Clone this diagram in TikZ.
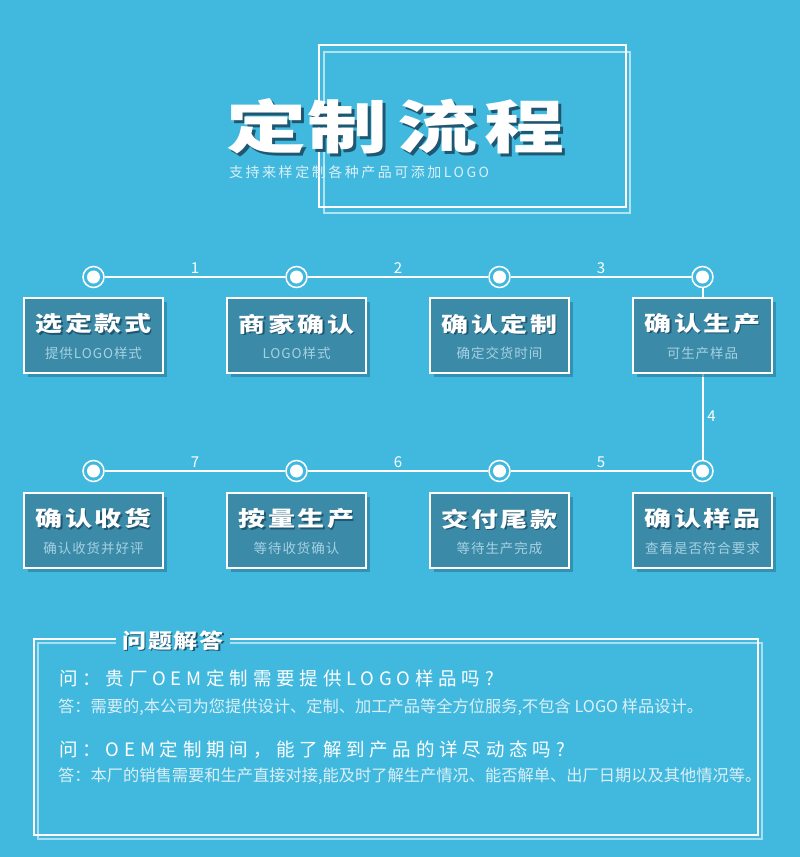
\documentclass[tikz,border=0pt]{standalone}
\usepackage{fontspec}
\usetikzlibrary{shadows}
\newfontfamily\cjk{Noto Sans CJK SC}
\newfontfamily\cjkh{Noto Sans CJK SC Black}
\definecolor{bg}{HTML}{41B9DF}
\definecolor{boxfill}{HTML}{3B8BA8}
\definecolor{boxshade}{HTML}{2B7898}
\definecolor{subtxt}{HTML}{A6D1E2}
\definecolor{tshade}{HTML}{1F5670}
\definecolor{lite}{HTML}{DCEFF6}
\newcommand\shtxt[4]{\makebox[0pt][l]{\kern#2\raisebox{-#3}{\color{#1}#4}}#4}
\tikzset{
  stepbox/.style={draw=white, line width=1.3pt, fill=boxfill, minimum width=139pt,
    minimum height=75pt, inner sep=0pt,
    drop shadow={shadow xshift=4pt, shadow yshift=-4pt, fill=boxshade, opacity=0.6}},
  btitle/.style={text=white, inner sep=0pt,
    font=\cjkh\fontsize{27}{27}\selectfont\addfontfeature{LetterSpace=9}},
  bsub/.style={text=subtxt, inner sep=0pt,
    font=\cjk\fontsize{13.5}{14}\selectfont\addfontfeature{LetterSpace=7}},
  dot/.style={circle, draw=white, line width=1.5pt, fill=bg, minimum size=21pt, inner sep=0pt,
    path picture={\fill[white] (path picture bounding box.center) circle (6.5pt);}},
  conn/.style={draw=white, line width=2pt},
  num/.style={text=white, inner sep=0pt, font=\cjk\fontsize{15}{15}\selectfont},
  titlech/.style={text=white, inner sep=0pt, font=\cjkh\fontsize{80}{80}\selectfont},
  qtext/.style={text=white, inner sep=0pt, anchor=west,
    font=\cjk\fontsize{18.5}{20}\selectfont\addfontfeature{LetterSpace=26}},
  atext/.style={text=lite, inner sep=0pt, anchor=west,
    font=\cjk\fontsize{16.25}{18}\selectfont},
}
\newcommand\procbox[5]{%
  \node[stepbox] (#1) at (#2,#3) {};
  \node[btitle] (#1t) at ([yshift=11pt]#1.center) {\scalebox{1}[0.78]{\shtxt{tshade}{1.5pt}{1.5pt}{#4}}};
  \node[bsub] (#1s) at ([yshift=-17.5pt]#1.center) {#5};}
\begin{document}
\begin{tikzpicture}[x=1pt,y=-1pt]
\fill[bg] (0,0) rectangle (800,857);
\useasboundingbox (0,0) rectangle (800,857);
% title frames
\draw[white, line width=1.2pt] (319,45) rectangle (626,207);
\draw[white, opacity=0.6, line width=1.2pt] (324,52) rectangle (630,213);
% title
\foreach \c/\x [count=\i] in {定/266,制/347,流/437,程/524}{
  \node[titlech] (t\i) at (\x,128) {\scalebox{1}[0.72]{\shtxt{tshade}{3pt}{4.5pt}{\c}}};
}
\node[text=lite, inner sep=0pt, anchor=west,
  font=\cjk\fontsize{14}{14}\selectfont\addfontfeature{LetterSpace=18}] (tsub) at (229,172) {支持来样定制各种产品可添加LOGO};
% dots
\node[dot] (c1) at (93.5,277) {};
\node[dot] (c2) at (296.5,277) {};
\node[dot] (c3) at (499.5,277) {};
\node[dot] (c4) at (702.5,277) {};
\node[dot] (c5) at (702.5,471) {};
\node[dot] (c6) at (499.5,471) {};
\node[dot] (c7) at (296.5,471) {};
\node[dot] (c8) at (93.5,471) {};
% connectors
\draw[conn] (c1) -- node[num, midway, yshift=9pt] (n1) {1} (c2);
\draw[conn] (c2) -- node[num, midway, yshift=9pt] (n2) {2} (c3);
\draw[conn] (c3) -- node[num, midway, yshift=9pt] (n3) {3} (c4);
\draw[conn] (c4) -- node[num, pos=0.745, xshift=9pt] (n4) {4} (c5);
\draw[conn] (c5) -- node[num, midway, yshift=9pt] (n5) {5} (c6);
\draw[conn] (c6) -- node[num, midway, yshift=9pt] (n6) {6} (c7);
\draw[conn] (c7) -- node[num, midway, yshift=9pt] (n7) {7} (c8);
% boxes
\procbox{b1}{93.5}{335.5}{选定款式}{提供LOGO样式}
\procbox{b2}{296.5}{335.5}{商家确认}{LOGO样式}
\procbox{b3}{499.5}{335.5}{确认定制}{确定交货时间}
\procbox{b4}{702.5}{335.5}{确认生产}{可生产样品}
\procbox{b5}{702.5}{530.5}{确认样品}{查看是否符合要求}
\procbox{b6}{499.5}{530.5}{交付尾款}{等待生产完成}
\procbox{b7}{296.5}{530.5}{按量生产}{等待收货确认}
\procbox{b8}{93.5}{530.5}{确认收货}{确认收货并好评}
% Q&A frame
\draw[white, line width=1.3pt] (34,639) rectangle (758,835);
\draw[white, opacity=0.55, line width=1.3pt] (38,643) rectangle (762,839);
\node[fill=bg, text=white, inner xsep=6pt, inner ysep=2pt, minimum width=114pt,
  font=\cjkh\fontsize{24}{24}\selectfont\addfontfeature{LetterSpace=8}] (qa) at (173,641)
  {\scalebox{1}[0.85]{\shtxt{tshade}{1.5pt}{1.5pt}{问题解答}}};
\node[qtext] (q1) at (59,678) {问：贵厂OEM定制需要提供LOGO样品吗?};
\node[atext] (a1) at (58,707) {答：需要的,本公司为您提供设计、定制、加工产品等全方位服务,不包含 LOGO 样品设计。};
\node[qtext] (q2) at (59,750) {问：OEM定制期间，能了解到产品的详尽动态吗?};
\node[atext] (a2) at (58,776) {答：本厂的销售需要和生产直接对接,能及时了解生产情况、能否解单、出厂日期以及其他情况等。};
\end{tikzpicture}
\end{document}
